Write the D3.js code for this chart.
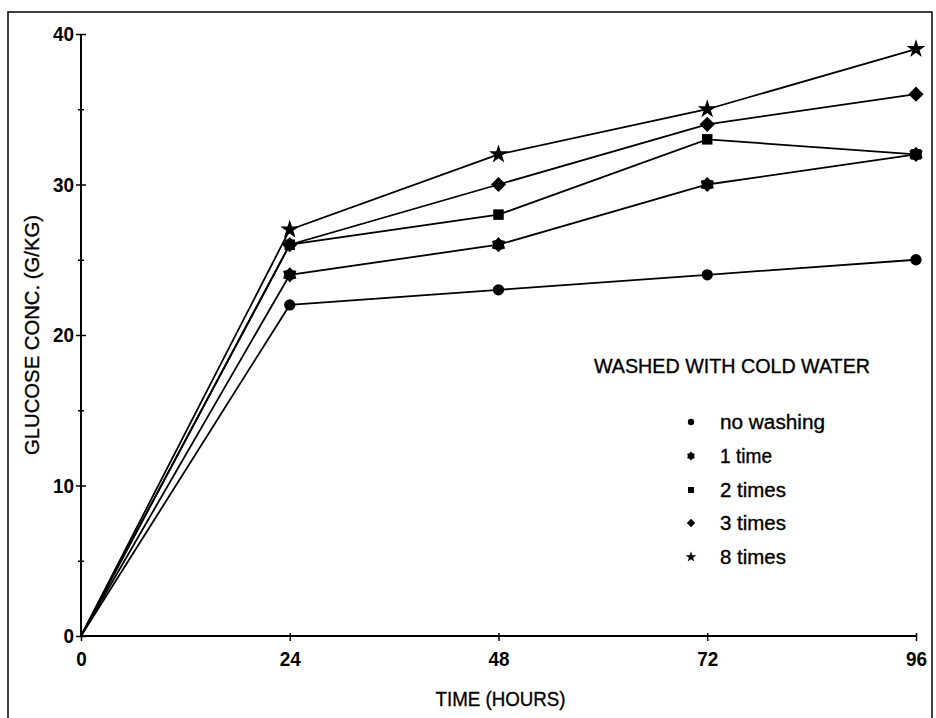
<!DOCTYPE html>
<html>
<head>
<meta charset="utf-8">
<script src="https://cdn.jsdelivr.net/npm/d3@7"></script>
<style>
  body { margin: 0; background: #fff; }
  text { font-family: "Liberation Sans", Arial, sans-serif; fill: #000; }
  .heavy { stroke: #000; stroke-width: 0.35px; }
</style>
</head>
<body>
<svg id="viz" width="936" height="718"></svg>
<script>
// sampling times (hours) and glucose per washing treatment (g/kg)
var hours = [0, 24, 48, 72, 96];
var noWashing = [0, 22, 23, 24, 25];
var oneTime = [0, 24, 26, 30, 32];
var twoTimes = [0, 26, 28, 33, 32];
var threeTimes = [0, 26, 30, 34, 36];
var eightTimes = [0, 27, 32, 35, 39];

var seriesNames = ["no washing", "1 time", "2 times", "3 times", "8 times"];
var yMajor = [0, 10, 20, 30, 40];
var yMinor = [5, 15, 25, 35];

// six pointed blob used for "1 time"
var hexStar = {
  draw: function (ctx, size) {
    var r = Math.sqrt(size) * 0.62, ri = r * 0.72;
    for (var i = 0; i < 12; i++) {
      var a = Math.PI / 6 * i - Math.PI / 2;
      var rr = i % 2 ? ri : r;
      if (i === 0) ctx.moveTo(rr * Math.cos(a), rr * Math.sin(a));
      else ctx.lineTo(rr * Math.cos(a), rr * Math.sin(a));
    }
    ctx.closePath();
  }
};

// square turned 45 degrees
var diamond = {
  draw: function (ctx, size) {
    var r = Math.sqrt(size) * 0.62;
    ctx.moveTo(0, -r);
    ctx.lineTo(r, 0);
    ctx.lineTo(0, r);
    ctx.lineTo(-r, 0);
    ctx.closePath();
  }
};

var series = [
  { name: seriesNames[0], values: noWashing, sym: d3.symbolCircle, size: 100, lsize: 32 },
  { name: seriesNames[1], values: oneTime, sym: hexStar, size: 150, lsize: 50 },
  { name: seriesNames[2], values: twoTimes, sym: d3.symbolSquare, size: 110, lsize: 36 },
  { name: seriesNames[3], values: threeTimes, sym: diamond, size: 150, lsize: 45 },
  { name: seriesNames[4], values: eightTimes, sym: d3.symbolStar, size: 110, lsize: 36 }
];

var svg = d3.select("#viz");

// scanned page frame
svg.append("path")
  .attr("d", "M8,720 V12 H932 V720")
  .attr("fill", "none")
  .attr("stroke", "#000")
  .attr("stroke-width", 1.5);

var x = d3.scaleLinear().domain([0, 96]).range([81, 916]);
var y = d3.scaleLinear().domain([0, 40]).range([636, 34]);

// x axis
var xAxis = svg.append("g")
  .attr("transform", "translate(0," + y(0) + ")")
  .call(d3.axisBottom(x).tickValues(hours).tickSize(5).tickPadding(10));
xAxis.select(".domain").attr("stroke-width", 2).attr("d", "M" + x(0) + ",0H" + x(96));
xAxis.selectAll(".tick line").attr("stroke-width", 1.5).attr("y1", -3);
xAxis.selectAll(".tick text")
  .style("font-size", "21px").style("font-weight", "bold")
  .attr("textLength", function (d) { return String(d).length * 10.5; })
  .attr("lengthAdjust", "spacingAndGlyphs");

// y axis
var yAxis = svg.append("g")
  .attr("transform", "translate(" + x(0) + ",0)")
  .call(d3.axisLeft(y).tickValues(yMajor).tickSize(5).tickPadding(2));
yAxis.select(".domain").attr("stroke-width", 2).attr("d", "M0," + y(0) + "V" + y(40));
yAxis.selectAll(".tick line").attr("stroke-width", 1.5).attr("x1", 5);
yAxis.selectAll(".tick text")
  .style("font-size", "21px").style("font-weight", "bold")
  .attr("textLength", function (d) { return String(d).length * 10.5; })
  .attr("lengthAdjust", "spacingAndGlyphs");

var yMinorAxis = svg.append("g")
  .attr("transform", "translate(" + x(0) + ",0)")
  .call(d3.axisLeft(y).tickValues(yMinor).tickSize(3).tickFormat(""));
yMinorAxis.select(".domain").remove();
yMinorAxis.selectAll(".tick line").attr("stroke-width", 1.5).attr("x1", 3);

// axis titles
svg.append("text")
  .attr("class", "heavy")
  .attr("x", (x(0) + x(96)) / 2 + 2)
  .attr("y", 706)
  .attr("text-anchor", "middle")
  .attr("textLength", 130)
  .attr("lengthAdjust", "spacingAndGlyphs")
  .style("font-size", "21px")
  .text("TIME (HOURS)");

svg.append("text")
  .attr("class", "heavy")
  .attr("transform", "translate(39," + 335 + ") rotate(-90)")
  .attr("text-anchor", "middle")
  .attr("textLength", 240)
  .attr("lengthAdjust", "spacingAndGlyphs")
  .style("font-size", "21px")
  .text("GLUCOSE CONC. (G/KG)");

// lines and markers
var line = d3.line()
  .x(function (d, i) { return x(hours[i]); })
  .y(function (d) { return y(d); });

var plot = svg.append("g");

plot.selectAll("path.series")
  .data(series)
  .join("path")
  .attr("class", "series")
  .attr("fill", "none")
  .attr("stroke", "#000")
  .attr("stroke-width", 1.8)
  .attr("d", function (s) { return line(s.values); });

series.forEach(function (s) {
  plot.append("g").selectAll("path")
    .data(s.values.slice(1))
    .join("path")
    .attr("transform", function (d, i) { return "translate(" + x(hours[i + 1]) + "," + y(d) + ")"; })
    .attr("d", d3.symbol().type(s.sym).size(s.size))
    .attr("fill", "#000");
});

// legend
var legend = svg.append("g");
legend.append("text")
  .attr("class", "heavy")
  .attr("x", 594)
  .attr("y", 373)
  .attr("textLength", 276)
  .attr("lengthAdjust", "spacingAndGlyphs")
  .style("font-size", "20px")
  .text("WASHED WITH COLD WATER");

var rowY = [422, 456, 490, 523, 557];
var textW = [105, 52, 66, 66, 66];
var item = legend.selectAll("g.item")
  .data(series)
  .join("g")
  .attr("class", "item")
  .attr("transform", function (s, i) { return "translate(0," + rowY[i] + ")"; });

item.append("path")
  .attr("transform", "translate(691,0)")
  .attr("d", function (s) { return d3.symbol().type(s.sym).size(s.lsize)(); })
  .attr("fill", "#000");

item.append("text")
  .attr("class", "heavy")
  .attr("x", 720)
  .attr("y", 7)
  .attr("textLength", function (s, i) { return textW[i]; })
  .attr("lengthAdjust", "spacingAndGlyphs")
  .style("font-size", "20px")
  .text(function (s) { return s.name; });
</script>
</body>
</html>
